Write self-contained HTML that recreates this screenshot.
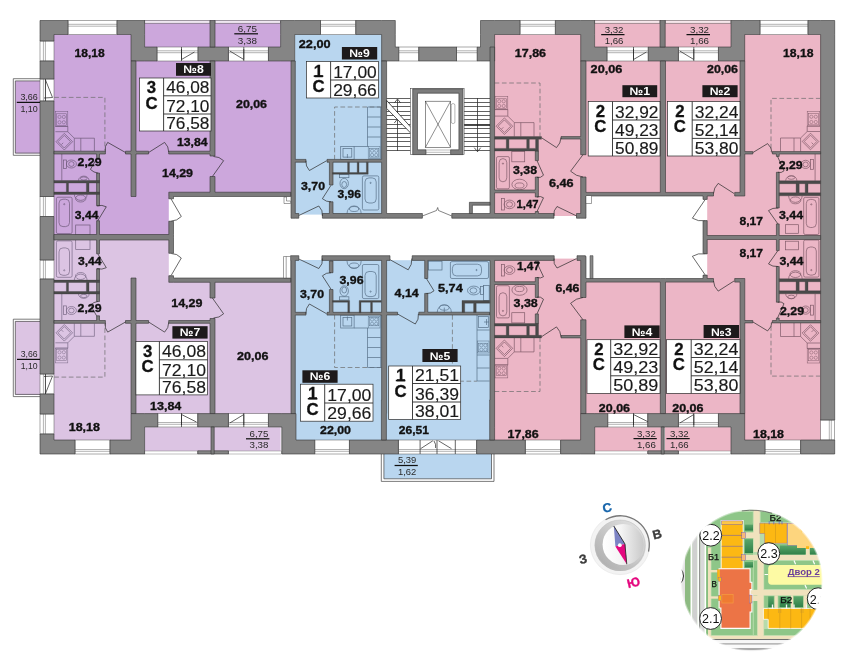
<!DOCTYPE html>
<html lang="ru">
<head>
<meta charset="utf-8">
<title>План этажа</title>
<style>
html,body{margin:0;padding:0;background:#fff;}
body{width:850px;height:659px;overflow:hidden;font-family:"Liberation Sans",sans-serif;}
svg{display:block;will-change:transform;}
svg text{font-family:"Liberation Sans",sans-serif;}
</style>
</head>
<body>
<svg width="850" height="659" viewBox="0 0 850 659">
<rect x="0" y="0" width="850" height="659" fill="#ffffff"/>
<rect x="54" y="34.5" width="77" height="202.8" fill="#cca7dc"/>
<rect x="131" y="47" width="161" height="149" fill="#cca7dc"/>
<rect x="131" y="190" width="40" height="47.3" fill="#cca7dc"/>
<rect x="144.6" y="20.5" width="136" height="26.5" fill="#cca7dc"/>
<rect x="15.3" y="81" width="24.7" height="72.3" fill="#cca7dc"/>
<rect x="54" y="237.2" width="77" height="202.8" fill="#dcc4e3"/>
<rect x="131" y="278.5" width="161" height="149" fill="#dcc4e3"/>
<rect x="131" y="237.2" width="40" height="47.3" fill="#dcc4e3"/>
<rect x="144.6" y="427.5" width="136" height="26.5" fill="#dcc4e3"/>
<rect x="15.3" y="321.2" width="24.7" height="73.8" fill="#dcc4e3"/>
<rect x="295" y="34.5" width="87" height="182.5" fill="#b9d6ef"/>
<rect x="295" y="257" width="87" height="183" fill="#b9d6ef"/>
<rect x="385" y="257" width="105" height="183" fill="#b9d6ef"/>
<rect x="383.9" y="454" width="107.6" height="24.8" fill="#b9d6ef"/>
<rect x="494" y="34.5" width="87" height="182.5" fill="#ecb6c6"/>
<rect x="494" y="257.5" width="87" height="182.5" fill="#ecb6c6"/>
<rect x="581" y="47" width="80" height="147.5" fill="#ecb6c6"/>
<rect x="581" y="280" width="80" height="147.5" fill="#ecb6c6"/>
<rect x="594.6" y="20.5" width="66.4" height="26.5" fill="#ecb6c6"/>
<rect x="594.6" y="427.5" width="66.4" height="26.5" fill="#ecb6c6"/>
<rect x="663" y="47" width="82" height="147.5" fill="#ecb6c6"/>
<rect x="663" y="280" width="82" height="147.5" fill="#ecb6c6"/>
<rect x="665" y="20.5" width="66" height="26.5" fill="#ecb6c6"/>
<rect x="665" y="427.5" width="66" height="26.5" fill="#ecb6c6"/>
<rect x="744" y="34.5" width="77" height="202.8" fill="#ecb6c6"/>
<rect x="744" y="237.2" width="77" height="202.8" fill="#ecb6c6"/>
<rect x="705" y="194" width="40" height="43.3" fill="#ecb6c6"/>
<rect x="705" y="237.2" width="40" height="43.3" fill="#ecb6c6"/>
<rect x="168.8" y="198.8" width="4.7" height="22.4" fill="#fff"/>
<rect x="168.8" y="253.3" width="4.7" height="22.4" fill="#fff"/>
<rect x="703" y="199.4" width="4.2" height="21.2" fill="#fff"/>
<rect x="703" y="253.9" width="4.2" height="21.2" fill="#fff"/>
<rect x="298.8" y="214.6" width="23.6" height="4.4" fill="#fff"/>
<rect x="298.8" y="255" width="23.1" height="5" fill="#fff"/>
<rect x="390" y="255" width="22.2" height="5.2" fill="#fff"/>
<rect x="554" y="216" width="22.5" height="3" fill="#fff"/>
<rect x="554.2" y="255" width="22.8" height="3.6" fill="#fff"/>
<rect x="68" y="20.5" width="49" height="14" fill="#ffffff" stroke="#555" stroke-width="0.5"/>
<path d="M68 24.3H117 M68 26.2H117" stroke="#666" stroke-width="0.5" fill="none"/>
<rect x="157" y="47" width="41" height="14" fill="#ffffff" stroke="#555" stroke-width="0.5"/>
<path d="M157 50.8H198 M157 52.7H198" stroke="#666" stroke-width="0.5" fill="none"/>
<rect x="228.4" y="47" width="40" height="14" fill="#ffffff" stroke="#555" stroke-width="0.5"/>
<path d="M228.4 50.8H268.4 M228.4 52.7H268.4" stroke="#666" stroke-width="0.5" fill="none"/>
<rect x="320.5" y="20.5" width="35.3" height="14" fill="#ffffff" stroke="#555" stroke-width="0.5"/>
<path d="M320.5 24.3H355.8 M320.5 26.2H355.8" stroke="#666" stroke-width="0.5" fill="none"/>
<rect x="398.8" y="47" width="20" height="14" fill="#ffffff" stroke="#555" stroke-width="0.5"/>
<path d="M398.8 50.8H418.8 M398.8 52.7H418.8" stroke="#666" stroke-width="0.5" fill="none"/>
<rect x="456.5" y="47" width="20.7" height="14" fill="#ffffff" stroke="#555" stroke-width="0.5"/>
<path d="M456.5 50.8H477.2 M456.5 52.7H477.2" stroke="#666" stroke-width="0.5" fill="none"/>
<rect x="520" y="20.5" width="35.3" height="14" fill="#ffffff" stroke="#555" stroke-width="0.5"/>
<path d="M520 24.3H555.3 M520 26.2H555.3" stroke="#666" stroke-width="0.5" fill="none"/>
<rect x="607" y="47" width="41.2" height="14" fill="#ffffff" stroke="#555" stroke-width="0.5"/>
<path d="M607 50.8H648.2 M607 52.7H648.2" stroke="#666" stroke-width="0.5" fill="none"/>
<rect x="678.4" y="47" width="40" height="14" fill="#ffffff" stroke="#555" stroke-width="0.5"/>
<path d="M678.4 50.8H718.4 M678.4 52.7H718.4" stroke="#666" stroke-width="0.5" fill="none"/>
<rect x="760" y="20.5" width="48" height="14" fill="#ffffff" stroke="#555" stroke-width="0.5"/>
<path d="M760 24.3H808 M760 26.2H808" stroke="#666" stroke-width="0.5" fill="none"/>
<rect x="75" y="440" width="35" height="14" fill="#ffffff" stroke="#555" stroke-width="0.5"/>
<path d="M75 449.5H110 M75 451.3H110" stroke="#666" stroke-width="0.5" fill="none"/>
<rect x="157.8" y="413.6" width="40" height="13.4" fill="#ffffff" stroke="#555" stroke-width="0.5"/>
<path d="M157.8 422.5H197.8 M157.8 424.3H197.8" stroke="#666" stroke-width="0.5" fill="none"/>
<rect x="228.4" y="413.6" width="40" height="13.4" fill="#ffffff" stroke="#555" stroke-width="0.5"/>
<path d="M228.4 422.5H268.4 M228.4 424.3H268.4" stroke="#666" stroke-width="0.5" fill="none"/>
<rect x="314.8" y="440" width="34.6" height="14" fill="#ffffff" stroke="#555" stroke-width="0.5"/>
<path d="M314.8 449.5H349.4 M314.8 451.3H349.4" stroke="#666" stroke-width="0.5" fill="none"/>
<rect x="398.4" y="440" width="78.2" height="14" fill="#ffffff" stroke="#555" stroke-width="0.5"/>
<path d="M398.4 449.5H476.6 M398.4 451.3H476.6" stroke="#666" stroke-width="0.5" fill="none"/>
<rect x="525.3" y="440" width="35.3" height="14" fill="#ffffff" stroke="#555" stroke-width="0.5"/>
<path d="M525.3 449.5H560.6 M525.3 451.3H560.6" stroke="#666" stroke-width="0.5" fill="none"/>
<rect x="607.8" y="413.6" width="40" height="13.4" fill="#ffffff" stroke="#555" stroke-width="0.5"/>
<path d="M607.8 422.5H647.8 M607.8 424.3H647.8" stroke="#666" stroke-width="0.5" fill="none"/>
<rect x="678.4" y="413.6" width="40" height="13.4" fill="#ffffff" stroke="#555" stroke-width="0.5"/>
<path d="M678.4 422.5H718.4 M678.4 424.3H718.4" stroke="#666" stroke-width="0.5" fill="none"/>
<rect x="765" y="440" width="35.6" height="14" fill="#ffffff" stroke="#555" stroke-width="0.5"/>
<path d="M765 449.5H800.6 M765 451.3H800.6" stroke="#666" stroke-width="0.5" fill="none"/>
<rect x="40" y="41" width="14" height="20" fill="#ffffff" stroke="#555" stroke-width="0.5"/>
<path d="M43.4 41V61 M45.4 41V61" stroke="#666" stroke-width="0.5" fill="none"/>
<rect x="40" y="79" width="14" height="22" fill="#ffffff" stroke="#555" stroke-width="0.5"/>
<path d="M43.4 79V101 M45.4 79V101" stroke="#666" stroke-width="0.5" fill="none"/>
<rect x="40" y="196.5" width="14" height="20" fill="#ffffff" stroke="#555" stroke-width="0.5"/>
<path d="M43.4 196.5V216.5 M45.4 196.5V216.5" stroke="#666" stroke-width="0.5" fill="none"/>
<rect x="40" y="260" width="14" height="19" fill="#ffffff" stroke="#555" stroke-width="0.5"/>
<path d="M43.4 260V279 M45.4 260V279" stroke="#666" stroke-width="0.5" fill="none"/>
<rect x="40" y="374" width="14" height="20" fill="#ffffff" stroke="#555" stroke-width="0.5"/>
<path d="M43.4 374V394 M45.4 374V394" stroke="#666" stroke-width="0.5" fill="none"/>
<rect x="40" y="414" width="14" height="20" fill="#ffffff" stroke="#555" stroke-width="0.5"/>
<path d="M43.4 414V434 M45.4 414V434" stroke="#666" stroke-width="0.5" fill="none"/>
<rect x="820.6" y="420" width="14.1" height="20" fill="#ffffff" stroke="#555" stroke-width="0.5"/>
<path d="M829.3 420V440 M831.3 420V440" stroke="#666" stroke-width="0.5" fill="none"/>
<path d="M40 78.7H13.3V155.3H40 M40 80.9H15.3V153.1H40" fill="none" stroke="#444" stroke-width="0.7"/>
<path d="M40 319.2H13.3V396.6H40 M40 321.4H15.3V394.4H40" fill="none" stroke="#444" stroke-width="0.7"/>
<path d="M381.3 454V481.4H494V454 M383.9 454V478.8H491.5V454" fill="none" stroke="#444" stroke-width="0.7"/>
<rect x="144.6" y="20.7" width="65.4" height="2.5" fill="#efe6f1" stroke="#555" stroke-width="0.5"/>
<rect x="215" y="20.7" width="65.6" height="2.5" fill="#efe6f1" stroke="#555" stroke-width="0.5"/>
<rect x="594.6" y="20.7" width="65.4" height="2.5" fill="#f7e6eb" stroke="#555" stroke-width="0.5"/>
<rect x="665.2" y="20.7" width="65.8" height="2.5" fill="#f7e6eb" stroke="#555" stroke-width="0.5"/>
<rect x="144.6" y="451" width="53.2" height="3" fill="#fff" stroke="#666" stroke-width="0.4"/>
<rect x="228.4" y="451" width="53.4" height="3" fill="#fff" stroke="#666" stroke-width="0.4"/>
<rect x="594.7" y="451" width="53.1" height="3" fill="#fff" stroke="#666" stroke-width="0.4"/>
<rect x="678.4" y="451" width="52.6" height="3" fill="#fff" stroke="#666" stroke-width="0.4"/>
<g fill="none" stroke="#222" stroke-width="0.7"><path d="M181.5 49V59.5L194.5 52 M181.5 47V61"/><path d="M243.8 49V59.5L229.8 51 M243.8 47V61"/><path d="M633.5 49V59.5L646.5 52 M633.5 47V61"/><path d="M693.8 49V59.5L679.8 51 M693.8 47V61"/><path d="M181.5 425V414.5L196.5 422 M181.5 427V413"/><path d="M243.8 425V414.5L229.8 423 M243.8 427V413"/><path d="M633.5 425V414.5L648.5 422 M633.5 427V413"/><path d="M693.8 425V414.5L679.8 423 M693.8 427V413"/><path d="M420.1 454V440 M437 454V440 M455.3 454V440 M420.6 448.7L432.8 440.8 M451.5 448.7L438.5 440.8 M434 441Q436.2 444 435.6 448"/><path d="M45.5 79V101 M45.5 80L52.5 97.5L44 98"/><path d="M45.5 374V394 M45.5 393.5L52.5 376L44 376.5"/></g>
<path d="M131 61 L144.6 61 L157 61 L157 47 L144.6 47 L144.6 34.5 L144.6 20.5 L131 20.5 L117 20.5 L117 34.5 L131 34.5 L131 47Z M40 41 L54 41 L54 34.5 L68 34.5 L68 20.5 L54 20.5 L40 20.5 L40 34.5Z M198 61 L228.4 61 L228.4 47 L198 47Z M40 61 L40 79 L54 79 L54 61Z M40 196.5 L54 196.5 L54 101 L40 101Z M40 260 L54 260 L54 216.5 L40 216.5Z M40 374 L54 374 L54 279 L40 279Z M40 414 L54 414 L54 394 L40 394Z M131 413.6 L131 427 L131 440 L110 440 L110 454 L131 454 L144.6 454 L144.6 440 L144.6 427 L157.8 427 L157.8 413.6 L144.6 413.6Z M197.8 427 L228.4 427 L228.4 413.6 L197.8 413.6Z M75 454 L75 440 L54 440 L54 434 L40 434 L40 440 L40 454 L54 454Z M197.8 454 L228.4 454 L228.4 450.8 L197.8 450.8Z M555.3 20.5 L555.3 34.5 L580.7 34.5 L580.7 47 L580.7 61 L594.6 61 L607 61 L607 47 L594.6 47 L594.6 34.5 L594.6 20.5 L580.7 20.5Z M494.6 47 L494.6 34.5 L520 34.5 L520 20.5 L494.6 20.5 L480.5 20.5 L480.5 34.5 L480.5 47 L477.2 47 L477.2 61 L480.5 61 L494.6 61Z M280.6 20.5 L280.6 34.5 L280.6 47 L268.4 47 L268.4 61 L280.6 61 L294.7 61 L294.7 47 L294.7 34.5 L320.5 34.5 L320.5 20.5 L294.7 20.5Z M395.3 34.5 L395.3 20.5 L381.6 20.5 L355.8 20.5 L355.8 34.5 L381.6 34.5 L381.6 47 L381.6 61 L395.3 61 L398.8 61 L398.8 47 L395.3 47Z M418.8 61 L456.5 61 L456.5 47 L418.8 47Z M281.8 440 L281.8 454 L296 454 L314.8 454 L314.8 440 L296 440 L296 427 L296 413.6 L281.8 413.6 L268.4 413.6 L268.4 427 L281.8 427Z M349.4 440 L349.4 454 L398.4 454 L398.4 440Z M476.6 454 L525.3 454 L525.3 440 L476.6 440Z M560.6 454 L580.6 454 L594.7 454 L594.7 440 L594.7 427 L607.8 427 L607.8 413.6 L594.7 413.6 L580.6 413.6 L580.6 427 L580.6 440 L560.6 440Z M744.7 34.5 L760 34.5 L760 20.5 L744.7 20.5 L731 20.5 L731 34.5 L731 47 L718.4 47 L718.4 61 L731 61 L744.7 61 L744.7 47Z M808 20.5 L808 34.5 L820.6 34.5 L820.6 420 L834.7 420 L834.7 34.5 L834.7 20.5 L820.6 20.5Z M648.2 61 L678.4 61 L678.4 47 L648.2 47Z M647.8 427 L678.4 427 L678.4 413.6 L647.8 413.6Z M731 427 L731 440 L731 454 L744.7 454 L765 454 L765 440 L744.7 440 L744.7 427 L744.7 413.6 L731 413.6 L718.4 413.6 L718.4 427Z M820.6 440 L800.6 440 L800.6 454 L820.6 454 L834.7 454 L834.7 440Z M647.8 454 L678.4 454 L678.4 450.8 L647.8 450.8Z" fill="#858585" stroke="#333333" stroke-width="0.6" fill-rule="evenodd"/>
<g fill="none" stroke="#6e5a7a" stroke-width="0.7" >
<path d="M54.2 97.4H104.9V150.6" stroke-dasharray="4.7 2.6" stroke="#6c6c6c" stroke-width="0.7"/><g stroke-width="0.5"><rect x="55.4" y="111.6" width="12.4" height="14.8"/><rect x="56.6" y="113.8" width="10" height="11.4"/><circle cx="59.49" cy="116.93" r="1.6"/><circle cx="59.49" cy="122.26" r="1.6"/><circle cx="63.83" cy="116.93" r="1.6"/><circle cx="63.83" cy="122.26" r="1.6"/></g><path d="M55.4 126.4H67.8V131.7H55.4 M67.8 131.7L74.3 138.2V151 M74.3 138.2H94.4V151 M80.8 138.2V151"/><path d="M56 141.7L64.3 133.4L72.6 141.7L64.3 150Z"/><path d="M58 141.7L64.3 135.4L70.6 141.7L64.3 148Z"/><path d="M61.5 144.5L63.2 142.8"/><path d="M61.8 154V180.5"/><rect x="63.5" y="160" width="3" height="8.6"/><ellipse cx="71.4" cy="164" rx="5" ry="4"/><ellipse cx="71.4" cy="164" rx="2.7" ry="2.4"/><path d="M78.5 180.5A5.3 4.4 0 0 1 89.1 180.5"/><ellipse cx="83.8" cy="178.5" rx="3.3" ry="1.6"/><rect x="56.4" y="197.2" width="15.7" height="36.4" rx="1.5"/><rect x="59" y="199.2" width="10.5" height="27.4" rx="4"/><circle cx="64.25" cy="204.2" r="0.6"/><path d="M74.3 194.4A6.4 6 0 0 0 87.1 194.4"/><ellipse cx="80.7" cy="198.5" rx="5.2" ry="3.5"/><rect x="75.7" y="225" width="14.3" height="10"/>
</g>
<g fill="none" stroke="#7a6a86" stroke-width="0.7" transform="translate(0,474.5) scale(1,-1)">
<path d="M54.2 97.4H104.9V150.6" stroke-dasharray="4.7 2.6" stroke="#6c6c6c" stroke-width="0.7"/><g stroke-width="0.5"><rect x="55.4" y="111.6" width="12.4" height="14.8"/><rect x="56.6" y="113.8" width="10" height="11.4"/><circle cx="59.49" cy="116.93" r="1.6"/><circle cx="59.49" cy="122.26" r="1.6"/><circle cx="63.83" cy="116.93" r="1.6"/><circle cx="63.83" cy="122.26" r="1.6"/></g><path d="M55.4 126.4H67.8V131.7H55.4 M67.8 131.7L74.3 138.2V151 M74.3 138.2H94.4V151 M80.8 138.2V151"/><path d="M56 141.7L64.3 133.4L72.6 141.7L64.3 150Z"/><path d="M58 141.7L64.3 135.4L70.6 141.7L64.3 148Z"/><path d="M61.5 144.5L63.2 142.8"/><path d="M61.8 154V180.5"/><rect x="63.5" y="160" width="3" height="8.6"/><ellipse cx="71.4" cy="164" rx="5" ry="4"/><ellipse cx="71.4" cy="164" rx="2.7" ry="2.4"/><path d="M78.5 180.5A5.3 4.4 0 0 1 89.1 180.5"/><ellipse cx="83.8" cy="178.5" rx="3.3" ry="1.6"/><rect x="56.4" y="197.2" width="15.7" height="36.4" rx="1.5"/><rect x="59" y="199.2" width="10.5" height="27.4" rx="4"/><circle cx="64.25" cy="204.2" r="0.6"/><path d="M74.3 194.4A6.4 6 0 0 0 87.1 194.4"/><ellipse cx="80.7" cy="198.5" rx="5.2" ry="3.5"/><rect x="75.7" y="225" width="14.3" height="10"/>
</g>
<g fill="none" stroke="#587088" stroke-width="0.7" >
<path d="M381.6 107H334.6V159.4" stroke-dasharray="4.7 2.6" stroke="#6c6c6c" stroke-width="0.7"/><path d="M367.5 107H380.7V159.4 M367.5 107V146.5 M367.5 117H380.7 M367.5 127H380.7 M367.5 137H380.7"/><g stroke-width="0.5"><rect x="368.2" y="146.5" width="11.8" height="11.8"/><rect x="369.4" y="148.7" width="9.4" height="8.4"/><circle cx="372.09" cy="150.75" r="1.6"/><circle cx="372.09" cy="155" r="1.6"/><circle cx="376.22" cy="150.75" r="1.6"/><circle cx="376.22" cy="155" r="1.6"/></g><rect x="340.7" y="146.5" width="13.4" height="12.9"/><rect x="343" y="148.5" width="8.8" height="8.6"/><path d="M347.4 154V158"/><path d="M354.1 146.5H368.2"/><rect x="339.5" y="174.5" width="9.4" height="3.2"/><ellipse cx="344.2" cy="183.5" rx="4.2" ry="5.2"/><ellipse cx="344.2" cy="184.5" rx="2.4" ry="3"/><rect x="362.4" y="175.9" width="16.4" height="34.1" rx="1.5"/><rect x="365" y="177.9" width="11.2" height="25.1" rx="4"/><circle cx="370.6" cy="182.9" r="0.6"/><path d="M347 213.5A7 7.5 0 0 1 361.2 213.5"/><ellipse cx="354.1" cy="209" rx="4.6" ry="2.5"/>
</g>
<g fill="none" stroke="#587088" stroke-width="0.7" transform="translate(0,474.5) scale(1,-1)">
<path d="M381.6 107H334.6V159.4" stroke-dasharray="4.7 2.6" stroke="#6c6c6c" stroke-width="0.7"/><path d="M367.5 107H380.7V159.4 M367.5 107V146.5 M367.5 117H380.7 M367.5 127H380.7 M367.5 137H380.7"/><g stroke-width="0.5"><rect x="368.2" y="146.5" width="11.8" height="11.8"/><rect x="369.4" y="148.7" width="9.4" height="8.4"/><circle cx="372.09" cy="150.75" r="1.6"/><circle cx="372.09" cy="155" r="1.6"/><circle cx="376.22" cy="150.75" r="1.6"/><circle cx="376.22" cy="155" r="1.6"/></g><rect x="340.7" y="146.5" width="13.4" height="12.9"/><rect x="343" y="148.5" width="8.8" height="8.6"/><path d="M347.4 154V158"/><path d="M354.1 146.5H368.2"/><rect x="339.5" y="174.5" width="9.4" height="3.2"/><ellipse cx="344.2" cy="183.5" rx="4.2" ry="5.2"/><ellipse cx="344.2" cy="184.5" rx="2.4" ry="3"/><rect x="362.4" y="175.9" width="16.4" height="34.1" rx="1.5"/><rect x="365" y="177.9" width="11.2" height="25.1" rx="4"/><circle cx="370.6" cy="182.9" r="0.6"/><path d="M347 213.5A7 7.5 0 0 1 361.2 213.5"/><ellipse cx="354.1" cy="209" rx="4.6" ry="2.5"/>
</g>
<g fill="none" stroke="#587088" stroke-width="0.7" >
<path d="M452.4 315V381.2H477" stroke-dasharray="4.7 2.6" stroke="#6c6c6c" stroke-width="0.7"/><path d="M477 315V381H489.5 M477 330H489.5 M477 355H489.5 M477 368H489.5"/><rect x="478.3" y="316.5" width="10" height="11"/><path d="M486.5 319V325 M484 322H489"/><g stroke-width="0.5"><rect x="477.5" y="341" width="11.5" height="12"/><rect x="478.7" y="343.2" width="9.1" height="8.6"/><circle cx="481.3" cy="345.32" r="1.6"/><circle cx="481.3" cy="349.64" r="1.6"/><circle cx="485.32" cy="345.32" r="1.6"/><circle cx="485.32" cy="349.64" r="1.6"/></g><rect x="450.4" y="261.6" width="38.1" height="16.9" rx="1.5"/><rect x="452.4" y="264.2" width="29.1" height="11.7" rx="4"/><circle cx="476.5" cy="270.05" r="0.6"/><rect x="428.4" y="261.2" width="13.6" height="8.8"/><rect x="483.6" y="285.6" width="5.6" height="14.9"/><rect x="480.4" y="286.5" width="3" height="8"/><ellipse cx="473.8" cy="290.5" rx="6.3" ry="4.4"/><ellipse cx="473.4" cy="290.5" rx="3.4" ry="2.7"/><path d="M437.2 312.4A7.1 7.6 0 0 1 451.4 312.4"/><ellipse cx="444.3" cy="307.6" rx="4.8" ry="2.6"/><path d="M444.3 307.6V312"/>
</g>
<g fill="none" stroke="#805a69" stroke-width="0.7" >
<path d="M494.6 83H540V136.6" stroke-dasharray="4.7 2.6" stroke="#6c6c6c" stroke-width="0.7"/><g stroke-width="0.5"><rect x="495" y="96.6" width="12.8" height="13"/><rect x="496.2" y="98.8" width="10.4" height="9.6"/><circle cx="499.22" cy="101.28" r="1.6"/><circle cx="499.22" cy="105.96" r="1.6"/><circle cx="503.7" cy="101.28" r="1.6"/><circle cx="503.7" cy="105.96" r="1.6"/></g><path d="M495 109.6H507.8V116.1H495 M507.8 116.1L514.3 122.6V136.6 M514.3 122.6H534V136.6 M520.8 122.6V136.6"/><path d="M496.1 126.2L504.4 117.9L512.7 126.2L504.4 134.5Z"/><path d="M498.1 126.2L504.4 119.9L510.7 126.2L504.4 132.5Z"/><path d="M501.6 129L503.3 127.3"/><rect x="496.5" y="156.6" width="12.9" height="32.2" rx="1.5"/><rect x="499.1" y="158.6" width="7.7" height="23.2" rx="4"/><circle cx="502.95" cy="163.6" r="0.6"/><rect x="511.8" y="151.6" width="12.9" height="10.2"/><ellipse cx="519.5" cy="184.5" rx="7.6" ry="5.3"/><ellipse cx="519.5" cy="185.5" rx="4.5" ry="2.6"/><rect x="501.6" y="198.5" width="3" height="11.5"/><ellipse cx="509.5" cy="204.4" rx="5.4" ry="4.3"/><ellipse cx="509.5" cy="204.4" rx="3" ry="2.6"/>
</g>
<g fill="none" stroke="#805a69" stroke-width="0.7" transform="translate(0,474.5) scale(1,-1)">
<path d="M494.6 83H540V136.6" stroke-dasharray="4.7 2.6" stroke="#6c6c6c" stroke-width="0.7"/><g stroke-width="0.5"><rect x="495" y="96.6" width="12.8" height="13"/><rect x="496.2" y="98.8" width="10.4" height="9.6"/><circle cx="499.22" cy="101.28" r="1.6"/><circle cx="499.22" cy="105.96" r="1.6"/><circle cx="503.7" cy="101.28" r="1.6"/><circle cx="503.7" cy="105.96" r="1.6"/></g><path d="M495 109.6H507.8V116.1H495 M507.8 116.1L514.3 122.6V136.6 M514.3 122.6H534V136.6 M520.8 122.6V136.6"/><path d="M496.1 126.2L504.4 117.9L512.7 126.2L504.4 134.5Z"/><path d="M498.1 126.2L504.4 119.9L510.7 126.2L504.4 132.5Z"/><path d="M501.6 129L503.3 127.3"/><rect x="496.5" y="156.6" width="12.9" height="32.2" rx="1.5"/><rect x="499.1" y="158.6" width="7.7" height="23.2" rx="4"/><circle cx="502.95" cy="163.6" r="0.6"/><rect x="511.8" y="151.6" width="12.9" height="10.2"/><ellipse cx="519.5" cy="184.5" rx="7.6" ry="5.3"/><ellipse cx="519.5" cy="185.5" rx="4.5" ry="2.6"/><rect x="501.6" y="198.5" width="3" height="11.5"/><ellipse cx="509.5" cy="204.4" rx="5.4" ry="4.3"/><ellipse cx="509.5" cy="204.4" rx="3" ry="2.6"/>
</g>
<g fill="none" stroke="#805a69" stroke-width="0.7" >
<path d="M820.6 98.4H771V151.6" stroke-dasharray="4.7 2.6" stroke="#6c6c6c" stroke-width="0.7"/><g stroke-width="0.5"><rect x="807.2" y="111.5" width="12.6" height="14.6"/><rect x="808.4" y="113.7" width="10.2" height="11.2"/><circle cx="811.36" cy="116.76" r="1.6"/><circle cx="811.36" cy="122.01" r="1.6"/><circle cx="815.77" cy="116.76" r="1.6"/><circle cx="815.77" cy="122.01" r="1.6"/></g><path d="M820 126.1H807.2V131.5H820 M807.2 131.5L800.6 138V151.6 M800.6 138H780.5V151.6 M794 138V151.6"/><path d="M802.2 141.5L810.5 133.2L818.8 141.5L810.5 149.8Z"/><path d="M804.2 141.5L810.5 135.2L816.8 141.5L810.5 147.8Z"/><path d="M813.3 144.3L811.6 142.6"/><path d="M815.1 154V180.7"/><rect x="810.6" y="159.4" width="3" height="9.9"/><ellipse cx="805.6" cy="164.4" rx="4.6" ry="4.1"/><ellipse cx="805.6" cy="164.4" rx="2.6" ry="2.4"/><path d="M785.7 180.7A5.6 5 0 0 1 796.9 180.7"/><ellipse cx="791.3" cy="177.6" rx="3.6" ry="1.7"/><rect x="803.7" y="197.4" width="15.2" height="37.1" rx="1.5"/><rect x="806.3" y="199.4" width="10" height="28.1" rx="4"/><circle cx="811.3" cy="204.4" r="0.6"/><path d="M788.6 195.8A6.8 6.6 0 0 0 802.2 195.8"/><ellipse cx="795.4" cy="200.4" rx="5.4" ry="3.4"/><rect x="785.5" y="224.7" width="12.9" height="8.6"/>
</g>
<g fill="none" stroke="#805a69" stroke-width="0.7" transform="translate(0,474.5) scale(1,-1)">
<path d="M820.6 98.4H771V151.6" stroke-dasharray="4.7 2.6" stroke="#6c6c6c" stroke-width="0.7"/><g stroke-width="0.5"><rect x="807.2" y="111.5" width="12.6" height="14.6"/><rect x="808.4" y="113.7" width="10.2" height="11.2"/><circle cx="811.36" cy="116.76" r="1.6"/><circle cx="811.36" cy="122.01" r="1.6"/><circle cx="815.77" cy="116.76" r="1.6"/><circle cx="815.77" cy="122.01" r="1.6"/></g><path d="M820 126.1H807.2V131.5H820 M807.2 131.5L800.6 138V151.6 M800.6 138H780.5V151.6 M794 138V151.6"/><path d="M802.2 141.5L810.5 133.2L818.8 141.5L810.5 149.8Z"/><path d="M804.2 141.5L810.5 135.2L816.8 141.5L810.5 147.8Z"/><path d="M813.3 144.3L811.6 142.6"/><path d="M815.1 154V180.7"/><rect x="810.6" y="159.4" width="3" height="9.9"/><ellipse cx="805.6" cy="164.4" rx="4.6" ry="4.1"/><ellipse cx="805.6" cy="164.4" rx="2.6" ry="2.4"/><path d="M785.7 180.7A5.6 5 0 0 1 796.9 180.7"/><ellipse cx="791.3" cy="177.6" rx="3.6" ry="1.7"/><rect x="803.7" y="197.4" width="15.2" height="37.1" rx="1.5"/><rect x="806.3" y="199.4" width="10" height="28.1" rx="4"/><circle cx="811.3" cy="204.4" r="0.6"/><path d="M788.6 195.8A6.8 6.6 0 0 0 802.2 195.8"/><ellipse cx="795.4" cy="200.4" rx="5.4" ry="3.4"/><rect x="785.5" y="224.7" width="12.9" height="8.6"/>
</g>
<path d="M210 47 L215 47 L215 20.5 L210 20.5Z M168.7 151.2 L168.7 154 L210 154 L210 156 L215 156 L215 61 L210 61 L210 151.2Z M136 151.2 L136 61 L131 61 L131 151.2 L125.5 151.2 L125.5 154 L131 154 L131 196.5 L136 196.5 L136 154 L148.6 154 L148.6 151.2Z M96.6 154 L96.6 158.7 L99.5 158.7 L99.5 154 L105.4 154 L105.4 151.2 L54 151.2 L54 154Z M173.5 192.2 L168.8 192.2 L168.8 196.5 L168.8 198.8 L173.5 198.8 L173.5 196.5 L210 196.5 L215 196.5 L290.7 196.5 L290.7 192.2 L215 192.2 L215 176.5 L210 176.5 L210 192.2Z M99.5 205.8 L99.5 173 L96.6 173 L96.6 205.8Z M54 234.5 L54 240 L96.6 240 L96.6 253.8 L99.5 253.8 L99.5 240 L168.8 240 L168.8 253.3 L173.5 253.3 L173.5 240 L173.5 237.25 L173.5 234.5 L173.5 221.2 L168.8 221.2 L168.8 234.5 L99.5 234.5 L99.5 220.7 L96.6 220.7 L96.6 234.5Z M168.8 278 L168.8 282.3 L173.5 282.3 L210 282.3 L210 298 L215 298 L215 282.3 L290.7 282.3 L290.7 278 L215 278 L210 278 L173.5 278 L173.5 275.7 L168.8 275.7Z M99.5 301.5 L99.5 268.7 L96.6 268.7 L96.6 301.5Z M105.4 320.5 L99.5 320.5 L99.5 315.8 L96.6 315.8 L96.6 320.5 L54 320.5 L54 323.3 L105.4 323.3Z M148.6 323.3 L148.6 320.5 L136 320.5 L136 278 L131 278 L131 320.5 L125.5 320.5 L125.5 323.3 L131 323.3 L131 413.5 L136 413.5 L136 323.3Z M210 318.5 L210 320.5 L168.7 320.5 L168.7 323.3 L210 323.3 L210 413.5 L215 413.5 L215 318.5Z M298.8 218.2 L298.8 213.5 L295.3 213.5 L295.3 162.2 L306 162.2 L306 159.4 L295.3 159.4 L295.3 61 L291 61 L291 213.5 L291 218.2 L295.3 218.2Z M327 159.4 L327 162.2 L329.4 162.2 L329.4 185 L333 185 L333 162.2 L381.6 162.2 L381.6 213.5 L333 213.5 L333 201.8 L329.4 201.8 L329.4 213.5 L322.4 213.5 L322.4 218.2 L381.6 218.2 L386.6 218.2 L422.4 218.2 L422.4 213.5 L386.6 213.5 L386.6 61 L381.6 61 L381.6 159.4Z M290.6 260.4 L291 260.4 L291 413.5 L295.3 413.5 L295.3 315.1 L306 315.1 L306 312.3 L295.3 312.3 L295.3 260.4 L298.8 260.4 L298.8 255.7 L290.6 255.7Z M381.6 260.4 L381.6 312.3 L333 312.3 L333 289.5 L329.4 289.5 L329.4 312.3 L327 312.3 L327 315.1 L381.6 315.1 L381.6 400 L381.4 400 L381.4 440 L386.4 440 L386.4 413.5 L386.6 413.5 L386.6 315 L397.6 315 L397.6 312.2 L386.6 312.2 L386.6 260.4 L390 260.4 L390 255.7 L321.9 255.7 L321.9 260.4Z M333 272.7 L333 261 L329.4 261 L329.4 272.7Z M424.7 278.5 L427.8 278.5 L427.8 260.4 L490 260.4 L490 400 L489.7 400 L489.7 440 L494.6 440 L494.6 427.5 L494.6 400 L494.6 284.5 L535.3 284.5 L535.3 297.5 L538.4 297.5 L538.4 284.5 L538.4 281.7 L538.4 277.5 L535.3 277.5 L535.3 281.7 L494.6 281.7 L494.6 260.4 L554.2 260.4 L554.2 255.7 L412.2 255.7 L412.2 260.4 L424.7 260.4Z M489.5 315 L489.5 312.2 L427.8 312.2 L427.8 293.4 L424.7 293.4 L424.7 312.2 L418.8 312.2 L418.8 315Z M214.2 454 L214.2 427 L211 427 L211 454Z M660 47 L665.2 47 L665.2 20.5 L660 20.5Z M561 136.6 L561 139 L580.7 139 L580.7 154.7 L586 154.7 L586 61 L580.7 61 L580.7 136.6Z M538.4 197 L538.4 192.8 L538.4 190 L538.4 177 L535.3 177 L535.3 190 L494.6 190 L494.6 47 L490 47 L490 213.5 L451.8 213.5 L451.8 218.2 L490 218.2 L494.6 218.2 L554 218.2 L554 213.5 L538.4 213.5 L538.4 211.5 L535.3 211.5 L535.3 213.5 L494.6 213.5 L494.6 192.8 L535.3 192.8 L535.3 197Z M538.4 160.6 L538.4 151 L535.3 151 L535.3 160.6Z M576.5 213.5 L576.5 218.2 L580.7 218.2 L586 218.2 L586 213.5 L586 196 L660.3 196 L665.5 196 L703 196 L703 199.4 L707.2 199.4 L707.2 196 L713.5 196 L713.5 192.4 L665.5 192.4 L665.5 61 L660.3 61 L660.3 192.4 L586 192.4 L586 177 L580.7 177 L580.7 213.5Z M660.3 282.1 L660.3 413.5 L665.5 413.5 L665.5 282.1 L713.5 282.1 L713.5 278.5 L707.2 278.5 L707.2 275.1 L703 275.1 L703 278.5 L665.5 278.5 L660.3 278.5 L586 278.5 L586 256.3 L585.3 256.3 L585.3 255.7 L577 255.7 L577 260.4 L580.7 260.4 L580.7 297.5 L586 297.5 L586 282.1Z M538.4 263 L538.4 261 L535.3 261 L535.3 263Z M538.4 323.5 L538.4 313.9 L535.3 313.9 L535.3 323.5Z M580.7 319.8 L580.7 335.5 L561 335.5 L561 337.9 L580.7 337.9 L580.7 413.5 L586 413.5 L586 319.8Z M752.8 151.6 L744.8 151.6 L744.8 61 L740 61 L740 192.4 L734.7 192.4 L734.7 196 L740 196 L744.8 196 L744.8 192.4 L744.8 154 L752.8 154Z M820.6 154 L820.6 151.6 L772.4 151.6 L772.4 154 L776.4 154 L776.4 156.4 L779.2 156.4 L779.2 154Z M779.2 208 L779.2 172.3 L776.4 172.3 L776.4 208Z M703 253.9 L707.2 253.9 L707.2 239.5 L776.4 239.5 L776.4 250.6 L779.2 250.6 L779.2 239.5 L820.6 239.5 L820.6 235.5 L779.2 235.5 L779.2 223.9 L776.4 223.9 L776.4 235.5 L707.2 235.5 L707.2 220.6 L703 220.6 L703 235.5 L703 237.25 L703 239.5Z M744.8 322.9 L752.8 322.9 L752.8 320.5 L744.8 320.5 L744.8 282.1 L744.8 278.5 L740 278.5 L734.7 278.5 L734.7 282.1 L740 282.1 L740 413.5 L744.8 413.5Z M779.2 302.2 L779.2 266.5 L776.4 266.5 L776.4 302.2Z M820.6 322.9 L820.6 320.5 L779.2 320.5 L779.2 318.1 L776.4 318.1 L776.4 320.5 L772.4 320.5 L772.4 322.9Z M664.2 454 L664.2 427 L661.2 427 L661.2 454Z" fill="#7c7c7c" stroke="#333333" stroke-width="0.6" fill-rule="evenodd"/>
<path d="M357.2 162.2 L357.2 172.6 L349.4 172.6 L349.4 162.2 L347.6 162.2 L347.6 172.6 L332.6 172.6 L332.6 174.2 L347.6 174.2 L349.4 174.2 L357.2 174.2 L359 174.2 L366.4 174.2 L368.2 174.2 L368.2 172.6 L368.2 162.2 L366.4 162.2 L366.4 172.6 L359 172.6 L359 162.2Z M68.5 180.5 L66.4 180.5 L54 180.5 L54 183 L66.4 183 L66.4 192 L54 192 L54 194.4 L66.4 194.4 L68.5 194.4 L86.4 194.4 L89 194.4 L99.5 194.4 L99.5 192 L89 192 L89 183 L99.5 183 L99.5 180.5 L89 180.5 L86.4 180.5Z M68.5 192 L68.5 183 L86.4 183 L86.4 192Z M86.4 280.1 L68.5 280.1 L66.4 280.1 L54 280.1 L54 282.5 L66.4 282.5 L66.4 291.5 L54 291.5 L54 294 L66.4 294 L68.5 294 L86.4 294 L89 294 L99.5 294 L99.5 291.5 L89 291.5 L89 282.5 L99.5 282.5 L99.5 280.1 L89 280.1Z M86.4 291.5 L68.5 291.5 L68.5 282.5 L86.4 282.5Z M332.6 300.6 L332.6 302.2 L347.8 302.2 L347.8 312.7 L349.6 312.7 L349.6 302.2 L349.6 300.6 L347.8 300.6Z M370.6 300.6 L361 300.6 L359.2 300.6 L359.2 302.2 L359.2 312.7 L361 312.7 L361 302.2 L370.6 302.2 L370.6 312.7 L372.4 312.7 L372.4 302.2 L381.2 302.2 L381.2 300.6 L372.4 300.6Z M462 300.5 L462 303.2 L462 312.4 L464.7 312.4 L464.7 303.2 L473.6 303.2 L473.6 312.4 L476.2 312.4 L476.2 303.2 L489.8 303.2 L489.8 300.5 L476.2 300.5 L473.6 300.5 L464.7 300.5Z M529.3 136.6 L526.7 136.6 L508.9 136.6 L506.3 136.6 L494.6 136.6 L494.6 139.2 L506.3 139.2 L506.3 148.4 L494.6 148.4 L494.6 151 L506.3 151 L508.9 151 L526.7 151 L529.3 151 L535.6 151 L538.5 151 L538.5 148.4 L538.5 139.2 L541.5 139.2 L541.5 136.6 L538.5 136.6 L535.6 136.6Z M526.7 148.4 L508.9 148.4 L508.9 139.2 L526.7 139.2Z M535.6 148.4 L529.3 148.4 L529.3 139.2 L535.6 139.2Z M779.2 192.8 L779.2 195.8 L796.1 195.8 L799.2 195.8 L805.2 195.8 L808 195.8 L820.6 195.8 L820.6 192.8 L808 192.8 L808 183.7 L820.6 183.7 L820.6 180.7 L808 180.7 L805.2 180.7 L799.2 180.7 L796.1 180.7 L779.2 180.7 L779.2 183.7 L796.1 183.7 L796.1 192.8Z M799.2 183.7 L805.2 183.7 L805.2 192.8 L799.2 192.8Z M799.2 278.7 L796.1 278.7 L779.2 278.7 L779.2 281.7 L796.1 281.7 L796.1 290.8 L779.2 290.8 L779.2 293.8 L796.1 293.8 L799.2 293.8 L805.2 293.8 L808 293.8 L820.6 293.8 L820.6 290.8 L808 290.8 L808 281.7 L820.6 281.7 L820.6 278.7 L808 278.7 L805.2 278.7Z M799.2 290.8 L799.2 281.7 L805.2 281.7 L805.2 290.8Z M526.7 323.5 L508.9 323.5 L506.3 323.5 L494.6 323.5 L494.6 326.1 L506.3 326.1 L506.3 335.3 L494.6 335.3 L494.6 337.9 L506.3 337.9 L508.9 337.9 L526.7 337.9 L529.3 337.9 L535.6 337.9 L538.5 337.9 L541.5 337.9 L541.5 335.3 L538.5 335.3 L538.5 326.1 L538.5 323.5 L535.6 323.5 L529.3 323.5Z M508.9 326.1 L526.7 326.1 L526.7 335.3 L508.9 335.3Z M529.3 335.3 L529.3 326.1 L535.6 326.1 L535.6 335.3Z" fill="#4a4a4a" stroke="#333" stroke-width="0.3" fill-rule="evenodd"/>
<g fill="none" stroke="#333" stroke-width="0.5"><path d="M386.6 98.5H411 M463.5 98.5H490 M386.6 102.5H411 M463.5 102.5H490 M386.6 106.5H411 M463.5 106.5H490 M386.6 111.5H411 M463.5 111.5H490 M386.6 115.5H411 M463.5 115.5H490 M386.6 119.5H411 M463.5 119.5H490 M386.6 124.5H411 M463.5 124.5H490 M386.6 128.5H411 M463.5 128.5H490 M386.6 133.5H411 M463.5 133.5H490 M386.6 137.5H411 M463.5 137.5H490 M386.6 141.5H411 M463.5 141.5H490 M386.6 146.5H411 M463.5 146.5H490 M386.6 150.5H411 M463.5 150.5H490 " stroke="#3a3a3a" stroke-width="0.8"/><path d="M397.5 151V99.5 M394.3 103L397.5 99L400.7 103 M394.3 123L397.5 119L400.7 123" stroke-width="0.8"/><path d="M477.5 98V151.5 M474.3 147.7L477.5 151.7L480.7 147.7" stroke-width="0.8"/><path d="M463.5 125.2H490" stroke="#111" stroke-width="1.1"/><path d="M386.6 100.4L413.5 130.2L411 133.4L386.6 108.4Z" fill="#fff" stroke="#222" stroke-width="0.8"/></g>
<rect x="410.3" y="88.5" width="53.8" height="66.2" fill="#fff" stroke="#333" stroke-width="0.5"/>
<path d="M412.7 88.8H462.9V154.6H450.6V149.8H458.9V93.2H417.5V149.8H426V154.6H412.7Z" fill="#7c7c7c" stroke="#333333" stroke-width="0.6"/>
<path d="M426 150H450.6 M426 154.7H450.6 M426 152.3H450.6" stroke="#555" stroke-width="0.4" fill="none"/>
<g fill="none" stroke="#333" stroke-width="0.55"><rect x="425.4" y="101.2" width="25.2" height="46.2"/><path d="M425.4 101.2L450.6 147.4 M450.6 101.2L425.4 147.4"/><rect x="451.3" y="103.6" width="3.6" height="19.9" rx="1.6" stroke="#777"/></g>
<path d="M469.4 213.5V202.3H490V205.2H472.4V213.5Z" fill="#7c7c7c" stroke="#333333" stroke-width="0.6"/>
<path d="M422.4 216L436.5 210.5L437.7 207.5L438.5 210.5L451.8 216" fill="none" stroke="#333" stroke-width="0.6"/>
<g fill="#fff" stroke="#444" stroke-width="0.5"><path d="M284 197V203.5H290.5V201H286.5V197Z"/><path d="M283.5 256.5H290.5V278H283.5Z M286.2 256.5V278"/><path d="M586 196V203.5H591.5V196"/><path d="M590 255.7H593V278.5H590Z" fill="#8a8a8a" stroke="#333"/></g>
<path d="M125.5 152.5L107.7 142.4Q104.28 146.28 105.4 151.5" fill="none" stroke="#2a2a2a" stroke-width="0.7" stroke-linejoin="round"/>
<path d="M125.5 322L107.7 332.1Q104.28 328.22 105.4 323" fill="none" stroke="#2a2a2a" stroke-width="0.7" stroke-linejoin="round"/>
<path d="M148.6 152.5L164.6 142.4Q168.82 146.56 168.7 152" fill="none" stroke="#2a2a2a" stroke-width="0.7" stroke-linejoin="round"/>
<path d="M148.6 322L164.6 332.1Q168.82 327.94 168.7 322.5" fill="none" stroke="#2a2a2a" stroke-width="0.7" stroke-linejoin="round"/>
<path d="M212.4 176.5L223.6 160.7Q219.29 156.45 213.5 156.5" fill="none" stroke="#2a2a2a" stroke-width="0.7" stroke-linejoin="round"/>
<path d="M212.4 298L223.6 313.8Q219.29 318.05 213.5 318" fill="none" stroke="#2a2a2a" stroke-width="0.7" stroke-linejoin="round"/>
<path d="M96.6 158.7L90.4 169.4Q93.8 172.7 97.8 173" fill="none" stroke="#2a2a2a" stroke-width="0.7" stroke-linejoin="round"/>
<path d="M96.6 315.8L90.4 305.1Q93.8 301.8 97.8 301.5" fill="none" stroke="#2a2a2a" stroke-width="0.7" stroke-linejoin="round"/>
<path d="M97.8 220.7L106.3 206.8Q102.11 204.57 97 205.8" fill="none" stroke="#2a2a2a" stroke-width="0.7" stroke-linejoin="round"/>
<path d="M97.8 253.8L106.3 267.7Q102.11 269.93 97 268.7" fill="none" stroke="#2a2a2a" stroke-width="0.7" stroke-linejoin="round"/>
<path d="M298.8 215.5L318.8 206Q323.22 210.46 322.4 216" fill="none" stroke="#2a2a2a" stroke-width="0.7" stroke-linejoin="round"/>
<path d="M298.8 259L318.8 268.5Q323.22 264.04 322.4 258.5" fill="none" stroke="#2a2a2a" stroke-width="0.7" stroke-linejoin="round"/>
<path d="M326.5 160.8L309.4 170.5Q305.39 166.23 305.9 160.8" fill="none" stroke="#2a2a2a" stroke-width="0.7" stroke-linejoin="round"/>
<path d="M326.5 313.7L309.4 304Q305.39 308.27 305.9 313.7" fill="none" stroke="#2a2a2a" stroke-width="0.7" stroke-linejoin="round"/>
<path d="M331 185.3L322.4 198.7Q326.18 202.04 331 201.8" fill="none" stroke="#2a2a2a" stroke-width="0.7" stroke-linejoin="round"/>
<path d="M331 289.2L322.4 275.8Q326.18 272.46 331 272.7" fill="none" stroke="#2a2a2a" stroke-width="0.7" stroke-linejoin="round"/>
<path d="M576.5 215.9L557 206.5Q552.98 210.64 554 215.9" fill="none" stroke="#2a2a2a" stroke-width="0.7" stroke-linejoin="round"/>
<path d="M576.5 258.6L557 268Q552.98 263.86 554 258.6" fill="none" stroke="#2a2a2a" stroke-width="0.7" stroke-linejoin="round"/>
<path d="M541.6 137.8L556.5 147.6Q560.81 143.29 561 137.8" fill="none" stroke="#2a2a2a" stroke-width="0.7" stroke-linejoin="round"/>
<path d="M541.6 336.7L556.5 326.9Q560.81 331.21 561 336.7" fill="none" stroke="#2a2a2a" stroke-width="0.7" stroke-linejoin="round"/>
<path d="M583 154.7L570.6 171.2Q576.06 176.43 583 177" fill="none" stroke="#2a2a2a" stroke-width="0.7" stroke-linejoin="round"/>
<path d="M583 319.8L570.6 303.3Q576.06 298.07 583 297.5" fill="none" stroke="#2a2a2a" stroke-width="0.7" stroke-linejoin="round"/>
<path d="M537 160.6L543.5 175.2Q540.64 178.24 537 177.5" fill="none" stroke="#2a2a2a" stroke-width="0.7" stroke-linejoin="round"/>
<path d="M537 313.9L543.5 299.3Q540.64 296.26 537 297" fill="none" stroke="#2a2a2a" stroke-width="0.7" stroke-linejoin="round"/>
<path d="M537 211.5L543.5 197.8Q540.64 195.71 537 197" fill="none" stroke="#2a2a2a" stroke-width="0.7" stroke-linejoin="round"/>
<path d="M537 263L543.5 276.7Q540.64 278.79 537 277.5" fill="none" stroke="#2a2a2a" stroke-width="0.7" stroke-linejoin="round"/>
<path d="M734 193.5L718.2 183.4Q713.67 187.84 713.5 193.5" fill="none" stroke="#2a2a2a" stroke-width="0.7" stroke-linejoin="round"/>
<path d="M734 281L718.2 291.1Q713.67 286.66 713.5 281" fill="none" stroke="#2a2a2a" stroke-width="0.7" stroke-linejoin="round"/>
<path d="M752.8 152.6L767.6 143.6Q771.84 147.56 772 152.6" fill="none" stroke="#2a2a2a" stroke-width="0.7" stroke-linejoin="round"/>
<path d="M752.8 321.9L767.6 330.9Q771.84 326.94 772 321.9" fill="none" stroke="#2a2a2a" stroke-width="0.7" stroke-linejoin="round"/>
<path d="M777.5 156.4L784 170.8Q781.36 173.37 777.9 172.3" fill="none" stroke="#2a2a2a" stroke-width="0.7" stroke-linejoin="round"/>
<path d="M777.5 318.1L784 303.7Q781.36 301.13 777.9 302.2" fill="none" stroke="#2a2a2a" stroke-width="0.7" stroke-linejoin="round"/>
<path d="M777.9 223.9L768.5 210.6Q772.64 207.55 777.9 208" fill="none" stroke="#2a2a2a" stroke-width="0.7" stroke-linejoin="round"/>
<path d="M777.9 250.6L768.5 263.9Q772.64 266.95 777.9 266.5" fill="none" stroke="#2a2a2a" stroke-width="0.7" stroke-linejoin="round"/>
<path d="M171 198.8L181.3 216.5Q176.88 221.14 171.2 221" fill="#fff" stroke="#2a2a2a" stroke-width="0.7" stroke-linejoin="round"/>
<path d="M171 275.7L181.3 258Q176.88 253.36 171.2 253.5" fill="#fff" stroke="#2a2a2a" stroke-width="0.7" stroke-linejoin="round"/>
<path d="M705.3 199.4L692.4 218.2Q698.08 221.8 705.3 220.6" fill="#fff" stroke="#2a2a2a" stroke-width="0.7" stroke-linejoin="round"/>
<path d="M705.3 275.1L692.4 256.3Q698.08 252.7 705.3 253.9" fill="#fff" stroke="#2a2a2a" stroke-width="0.7" stroke-linejoin="round"/>
<path d="M390 259.7L408.2 269.8Q412.4 264.68 411.8 258.5" fill="none" stroke="#2a2a2a" stroke-width="0.7" stroke-linejoin="round"/>
<path d="M397.6 314L415.3 324Q419.16 319.49 418.4 313.8" fill="none" stroke="#2a2a2a" stroke-width="0.7" stroke-linejoin="round"/>
<path d="M426.4 278.5L434 290.8Q430.66 293.84 426.4 293.6" fill="none" stroke="#2a2a2a" stroke-width="0.7" stroke-linejoin="round"/>
<g font-family="Liberation Sans, sans-serif">
<text x="74.5" y="56.7" font-size="11.6" font-weight="700" fill="#111" stroke="#111" stroke-width="0.35" textLength="30.2" lengthAdjust="spacingAndGlyphs">18,18</text>
<text x="236" y="108" font-size="11.6" font-weight="700" fill="#111" stroke="#111" stroke-width="0.35" textLength="31" lengthAdjust="spacingAndGlyphs">20,06</text>
<text x="177" y="145.9" font-size="11.6" font-weight="700" fill="#111" stroke="#111" stroke-width="0.35" textLength="30.6" lengthAdjust="spacingAndGlyphs">13,84</text>
<text x="162" y="177" font-size="11.6" font-weight="700" fill="#111" stroke="#111" stroke-width="0.35" textLength="31" lengthAdjust="spacingAndGlyphs">14,29</text>
<text x="77.6" y="165.9" font-size="11.6" font-weight="700" fill="#111" stroke="#111" stroke-width="0.35" textLength="24" lengthAdjust="spacingAndGlyphs">2,29</text>
<text x="74.8" y="218.8" font-size="11.6" font-weight="700" fill="#111" stroke="#111" stroke-width="0.35" textLength="23.6" lengthAdjust="spacingAndGlyphs">3,44</text>
<text x="78" y="264.7" font-size="11.6" font-weight="700" fill="#111" stroke="#111" stroke-width="0.35" textLength="23.6" lengthAdjust="spacingAndGlyphs">3,44</text>
<text x="77.6" y="311.8" font-size="11.6" font-weight="700" fill="#111" stroke="#111" stroke-width="0.35" textLength="24" lengthAdjust="spacingAndGlyphs">2,29</text>
<text x="171.2" y="306.6" font-size="11.6" font-weight="700" fill="#111" stroke="#111" stroke-width="0.35" textLength="31.3" lengthAdjust="spacingAndGlyphs">14,29</text>
<text x="150" y="409.7" font-size="11.6" font-weight="700" fill="#111" stroke="#111" stroke-width="0.35" textLength="31.3" lengthAdjust="spacingAndGlyphs">13,84</text>
<text x="237" y="360.3" font-size="11.6" font-weight="700" fill="#111" stroke="#111" stroke-width="0.35" textLength="31.4" lengthAdjust="spacingAndGlyphs">20,06</text>
<text x="68.7" y="431.3" font-size="11.6" font-weight="700" fill="#111" stroke="#111" stroke-width="0.35" textLength="31.3" lengthAdjust="spacingAndGlyphs">18,18</text>
<text x="298.8" y="47.5" font-size="11.6" font-weight="700" fill="#111" stroke="#111" stroke-width="0.35" textLength="31.8" lengthAdjust="spacingAndGlyphs">22,00</text>
<text x="301" y="190" font-size="11.6" font-weight="700" fill="#111" stroke="#111" stroke-width="0.35" textLength="24" lengthAdjust="spacingAndGlyphs">3,70</text>
<text x="337.6" y="198" font-size="11.6" font-weight="700" fill="#111" stroke="#111" stroke-width="0.35" textLength="23.4" lengthAdjust="spacingAndGlyphs">3,96</text>
<text x="300" y="298" font-size="11.6" font-weight="700" fill="#111" stroke="#111" stroke-width="0.35" textLength="24" lengthAdjust="spacingAndGlyphs">3,70</text>
<text x="339.5" y="284" font-size="11.6" font-weight="700" fill="#111" stroke="#111" stroke-width="0.35" textLength="24" lengthAdjust="spacingAndGlyphs">3,96</text>
<text x="394.6" y="297.4" font-size="11.6" font-weight="700" fill="#111" stroke="#111" stroke-width="0.35" textLength="24.2" lengthAdjust="spacingAndGlyphs">4,14</text>
<text x="438" y="291.5" font-size="11.6" font-weight="700" fill="#111" stroke="#111" stroke-width="0.35" textLength="24.8" lengthAdjust="spacingAndGlyphs">5,74</text>
<text x="320" y="434" font-size="11.6" font-weight="700" fill="#111" stroke="#111" stroke-width="0.35" textLength="31" lengthAdjust="spacingAndGlyphs">22,00</text>
<text x="398.8" y="434" font-size="11.6" font-weight="700" fill="#111" stroke="#111" stroke-width="0.35" textLength="30.2" lengthAdjust="spacingAndGlyphs">26,51</text>
<text x="514.8" y="57" font-size="11.6" font-weight="700" fill="#111" stroke="#111" stroke-width="0.35" textLength="31.2" lengthAdjust="spacingAndGlyphs">17,86</text>
<text x="590.6" y="73" font-size="11.6" font-weight="700" fill="#111" stroke="#111" stroke-width="0.35" textLength="31.8" lengthAdjust="spacingAndGlyphs">20,06</text>
<text x="707" y="73" font-size="11.6" font-weight="700" fill="#111" stroke="#111" stroke-width="0.35" textLength="31" lengthAdjust="spacingAndGlyphs">20,06</text>
<text x="783" y="57.2" font-size="11.6" font-weight="700" fill="#111" stroke="#111" stroke-width="0.35" textLength="30.5" lengthAdjust="spacingAndGlyphs">18,18</text>
<text x="513" y="174.2" font-size="11.6" font-weight="700" fill="#111" stroke="#111" stroke-width="0.35" textLength="24" lengthAdjust="spacingAndGlyphs">3,38</text>
<text x="549" y="187" font-size="11.6" font-weight="700" fill="#111" stroke="#111" stroke-width="0.35" textLength="24.6" lengthAdjust="spacingAndGlyphs">6,46</text>
<text x="516.5" y="207.6" font-size="11.6" font-weight="700" fill="#111" stroke="#111" stroke-width="0.35" textLength="21.9" lengthAdjust="spacingAndGlyphs">1,47</text>
<text x="739.4" y="225.3" font-size="11.6" font-weight="700" fill="#111" stroke="#111" stroke-width="0.35" textLength="23.6" lengthAdjust="spacingAndGlyphs">8,17</text>
<text x="779" y="219.4" font-size="11.6" font-weight="700" fill="#111" stroke="#111" stroke-width="0.35" textLength="24" lengthAdjust="spacingAndGlyphs">3,44</text>
<text x="778.7" y="168.8" font-size="11.6" font-weight="700" fill="#111" stroke="#111" stroke-width="0.35" textLength="23.8" lengthAdjust="spacingAndGlyphs">2,29</text>
<text x="739.4" y="257.4" font-size="11.6" font-weight="700" fill="#111" stroke="#111" stroke-width="0.35" textLength="23.6" lengthAdjust="spacingAndGlyphs">8,17</text>
<text x="779.4" y="265" font-size="11.6" font-weight="700" fill="#111" stroke="#111" stroke-width="0.35" textLength="24" lengthAdjust="spacingAndGlyphs">3,44</text>
<text x="780" y="315" font-size="11.6" font-weight="700" fill="#111" stroke="#111" stroke-width="0.35" textLength="24" lengthAdjust="spacingAndGlyphs">2,29</text>
<text x="517" y="270.3" font-size="11.6" font-weight="700" fill="#111" stroke="#111" stroke-width="0.35" textLength="23" lengthAdjust="spacingAndGlyphs">1,47</text>
<text x="513.5" y="306.8" font-size="11.6" font-weight="700" fill="#111" stroke="#111" stroke-width="0.35" textLength="24.3" lengthAdjust="spacingAndGlyphs">3,38</text>
<text x="555.4" y="291.5" font-size="11.6" font-weight="700" fill="#111" stroke="#111" stroke-width="0.35" textLength="24" lengthAdjust="spacingAndGlyphs">6,46</text>
<text x="507.6" y="437.6" font-size="11.6" font-weight="700" fill="#111" stroke="#111" stroke-width="0.35" textLength="31.1" lengthAdjust="spacingAndGlyphs">17,86</text>
<text x="598.8" y="412.2" font-size="11.6" font-weight="700" fill="#111" stroke="#111" stroke-width="0.35" textLength="31.2" lengthAdjust="spacingAndGlyphs">20,06</text>
<text x="672.2" y="412.2" font-size="11.6" font-weight="700" fill="#111" stroke="#111" stroke-width="0.35" textLength="31.3" lengthAdjust="spacingAndGlyphs">20,06</text>
<text x="753" y="437.6" font-size="11.6" font-weight="700" fill="#111" stroke="#111" stroke-width="0.35" textLength="31" lengthAdjust="spacingAndGlyphs">18,18</text>
<text x="20.4" y="100.4" font-size="9.7" fill="#2a2a2a" textLength="17.4" lengthAdjust="spacingAndGlyphs">3,66</text>
<path d="M16.8 102.4H40" stroke="#111" stroke-width="1.25"/>
<text x="20.4" y="112" font-size="9.7" fill="#2a2a2a" textLength="17.4" lengthAdjust="spacingAndGlyphs">1,10</text>
<text x="20.7" y="357.2" font-size="9.7" fill="#2a2a2a" textLength="16.9" lengthAdjust="spacingAndGlyphs">3,66</text>
<path d="M17 359.4H40" stroke="#111" stroke-width="1.25"/>
<text x="20.7" y="369" font-size="9.7" fill="#2a2a2a" textLength="16.9" lengthAdjust="spacingAndGlyphs">1,10</text>
<text x="237.8" y="32" font-size="9.7" fill="#2a2a2a" textLength="19.2" lengthAdjust="spacingAndGlyphs">6,75</text>
<path d="M234.3 33.8H258" stroke="#111" stroke-width="1.25"/>
<text x="237.8" y="43.5" font-size="9.7" fill="#2a2a2a" textLength="19.2" lengthAdjust="spacingAndGlyphs">3,38</text>
<text x="249.5" y="436.5" font-size="9.7" fill="#2a2a2a" textLength="18.9" lengthAdjust="spacingAndGlyphs">6,75</text>
<path d="M246 438.8H269.4" stroke="#111" stroke-width="1.25"/>
<text x="249.5" y="448" font-size="9.7" fill="#2a2a2a" textLength="18.9" lengthAdjust="spacingAndGlyphs">3,38</text>
<text x="398" y="463.3" font-size="9.7" fill="#2a2a2a" textLength="18.3" lengthAdjust="spacingAndGlyphs">5,39</text>
<path d="M394.6 465.5H417.8" stroke="#111" stroke-width="1.25"/>
<text x="398" y="475.4" font-size="9.7" fill="#2a2a2a" textLength="18.3" lengthAdjust="spacingAndGlyphs">1,62</text>
<text x="604.7" y="32.5" font-size="9.7" fill="#2a2a2a" textLength="18.8" lengthAdjust="spacingAndGlyphs">3,32</text>
<path d="M601.2 34.6H624.5" stroke="#111" stroke-width="1.25"/>
<text x="604.7" y="44.2" font-size="9.7" fill="#2a2a2a" textLength="18.8" lengthAdjust="spacingAndGlyphs">1,66</text>
<text x="690" y="32.5" font-size="9.7" fill="#2a2a2a" textLength="19" lengthAdjust="spacingAndGlyphs">3,32</text>
<path d="M686.5 34.6H710" stroke="#111" stroke-width="1.25"/>
<text x="690" y="44.2" font-size="9.7" fill="#2a2a2a" textLength="19" lengthAdjust="spacingAndGlyphs">1,66</text>
<text x="637" y="436.5" font-size="9.7" fill="#2a2a2a" textLength="18.8" lengthAdjust="spacingAndGlyphs">3,32</text>
<path d="M633.5 438.6H656.8" stroke="#111" stroke-width="1.25"/>
<text x="637" y="448" font-size="9.7" fill="#2a2a2a" textLength="18.8" lengthAdjust="spacingAndGlyphs">1,66</text>
<text x="670" y="436.5" font-size="9.7" fill="#2a2a2a" textLength="18.7" lengthAdjust="spacingAndGlyphs">3,32</text>
<path d="M666.5 438.6H689.7" stroke="#111" stroke-width="1.25"/>
<text x="670" y="448" font-size="9.7" fill="#2a2a2a" textLength="18.7" lengthAdjust="spacingAndGlyphs">1,66</text>
<rect x="139.4" y="78" width="71.6" height="53" fill="#fff" stroke="#2a2a2a" stroke-width="0.7"/>
<path d="M163.6 78V131 M163.6 95.8H211 M163.6 114H211 " stroke="#2a2a2a" stroke-width="0.9" fill="none"/>
<text x="151.5" y="93.2" font-size="16.8" font-weight="700" fill="#111" stroke="#111" stroke-width="0.3" text-anchor="middle">3</text>
<text x="151.5" y="108.5" font-size="16.8" font-weight="700" fill="#111" stroke="#111" stroke-width="0.3" text-anchor="middle">С</text>
<text x="166.2" y="93.4" font-size="17.4" fill="#1a1a1a" stroke="#1a1a1a" stroke-width="0.15" textLength="43.2" lengthAdjust="spacingAndGlyphs">46,08</text>
<text x="166.2" y="111.6" font-size="17.4" fill="#1a1a1a" stroke="#1a1a1a" stroke-width="0.15" textLength="43.2" lengthAdjust="spacingAndGlyphs">72,10</text>
<text x="166.2" y="128.6" font-size="17.4" fill="#1a1a1a" stroke="#1a1a1a" stroke-width="0.15" textLength="43.2" lengthAdjust="spacingAndGlyphs">76,58</text>
<rect x="135.9" y="341.5" width="71.7" height="53.4" fill="#fff" stroke="#2a2a2a" stroke-width="0.7"/>
<path d="M159.4 341.5V394.9 M159.4 359.8H207.6 M159.4 378H207.6 " stroke="#2a2a2a" stroke-width="0.9" fill="none"/>
<text x="147.65" y="356.7" font-size="16.8" font-weight="700" fill="#111" stroke="#111" stroke-width="0.3" text-anchor="middle">3</text>
<text x="147.65" y="372" font-size="16.8" font-weight="700" fill="#111" stroke="#111" stroke-width="0.3" text-anchor="middle">С</text>
<text x="162" y="357.4" font-size="17.4" fill="#1a1a1a" stroke="#1a1a1a" stroke-width="0.15" textLength="44" lengthAdjust="spacingAndGlyphs">46,08</text>
<text x="162" y="375.6" font-size="17.4" fill="#1a1a1a" stroke="#1a1a1a" stroke-width="0.15" textLength="44" lengthAdjust="spacingAndGlyphs">72,10</text>
<text x="162" y="392.5" font-size="17.4" fill="#1a1a1a" stroke="#1a1a1a" stroke-width="0.15" textLength="44" lengthAdjust="spacingAndGlyphs">76,58</text>
<rect x="306.4" y="61.6" width="72" height="36.4" fill="#fff" stroke="#2a2a2a" stroke-width="0.7"/>
<path d="M330.6 61.6V98 M330.6 80H378.4 " stroke="#2a2a2a" stroke-width="0.9" fill="none"/>
<text x="318.5" y="76.8" font-size="16.8" font-weight="700" fill="#111" stroke="#111" stroke-width="0.3" text-anchor="middle">1</text>
<text x="318.5" y="92.1" font-size="16.8" font-weight="700" fill="#111" stroke="#111" stroke-width="0.3" text-anchor="middle">С</text>
<rect x="313.7" y="75.4" width="9.6" height="1.5" fill="#111"/>
<text x="333.2" y="77.6" font-size="17.4" fill="#1a1a1a" stroke="#1a1a1a" stroke-width="0.15" textLength="43.6" lengthAdjust="spacingAndGlyphs">17,00</text>
<text x="333.2" y="95.6" font-size="17.4" fill="#1a1a1a" stroke="#1a1a1a" stroke-width="0.15" textLength="43.6" lengthAdjust="spacingAndGlyphs">29,66</text>
<rect x="300.5" y="384.2" width="72.5" height="37" fill="#fff" stroke="#2a2a2a" stroke-width="0.7"/>
<path d="M324.7 384.2V421.2 M324.7 403H373 " stroke="#2a2a2a" stroke-width="0.9" fill="none"/>
<text x="312.6" y="399.4" font-size="16.8" font-weight="700" fill="#111" stroke="#111" stroke-width="0.3" text-anchor="middle">1</text>
<text x="312.6" y="414.7" font-size="16.8" font-weight="700" fill="#111" stroke="#111" stroke-width="0.3" text-anchor="middle">С</text>
<rect x="307.8" y="398" width="9.6" height="1.5" fill="#111"/>
<text x="327.3" y="400.6" font-size="17.4" fill="#1a1a1a" stroke="#1a1a1a" stroke-width="0.15" textLength="44.1" lengthAdjust="spacingAndGlyphs">17,00</text>
<text x="327.3" y="418.8" font-size="17.4" fill="#1a1a1a" stroke="#1a1a1a" stroke-width="0.15" textLength="44.1" lengthAdjust="spacingAndGlyphs">29,66</text>
<rect x="388.7" y="366" width="72" height="53.5" fill="#fff" stroke="#2a2a2a" stroke-width="0.7"/>
<path d="M412.5 366V419.5 M412.5 383.5H460.7 M412.5 402H460.7 " stroke="#2a2a2a" stroke-width="0.9" fill="none"/>
<text x="400.6" y="381.2" font-size="16.8" font-weight="700" fill="#111" stroke="#111" stroke-width="0.3" text-anchor="middle">1</text>
<text x="400.6" y="396.5" font-size="16.8" font-weight="700" fill="#111" stroke="#111" stroke-width="0.3" text-anchor="middle">С</text>
<rect x="395.8" y="379.8" width="9.6" height="1.5" fill="#111"/>
<text x="415.1" y="381.1" font-size="17.4" fill="#1a1a1a" stroke="#1a1a1a" stroke-width="0.15" textLength="44" lengthAdjust="spacingAndGlyphs">21,51</text>
<text x="415.1" y="399.6" font-size="17.4" fill="#1a1a1a" stroke="#1a1a1a" stroke-width="0.15" textLength="44" lengthAdjust="spacingAndGlyphs">36,39</text>
<text x="415.1" y="417.1" font-size="17.4" fill="#1a1a1a" stroke="#1a1a1a" stroke-width="0.15" textLength="44" lengthAdjust="spacingAndGlyphs">38,01</text>
<rect x="588.2" y="101.6" width="71.8" height="54.4" fill="#fff" stroke="#2a2a2a" stroke-width="0.7"/>
<path d="M612.5 101.6V156 M612.5 120H660 M612.5 138.4H660 " stroke="#2a2a2a" stroke-width="0.9" fill="none"/>
<text x="600.35" y="116.8" font-size="16.8" font-weight="700" fill="#111" stroke="#111" stroke-width="0.3" text-anchor="middle">2</text>
<text x="600.35" y="132.1" font-size="16.8" font-weight="700" fill="#111" stroke="#111" stroke-width="0.3" text-anchor="middle">С</text>
<text x="615.1" y="117.6" font-size="17.4" fill="#1a1a1a" stroke="#1a1a1a" stroke-width="0.15" textLength="43.3" lengthAdjust="spacingAndGlyphs">32,92</text>
<text x="615.1" y="136" font-size="17.4" fill="#1a1a1a" stroke="#1a1a1a" stroke-width="0.15" textLength="43.3" lengthAdjust="spacingAndGlyphs">49,23</text>
<text x="615.1" y="153.6" font-size="17.4" fill="#1a1a1a" stroke="#1a1a1a" stroke-width="0.15" textLength="43.3" lengthAdjust="spacingAndGlyphs">50,89</text>
<rect x="667.5" y="101.6" width="72.5" height="54.4" fill="#fff" stroke="#2a2a2a" stroke-width="0.7"/>
<path d="M692.2 101.6V156 M692.2 120H740 M692.2 138.4H740 " stroke="#2a2a2a" stroke-width="0.9" fill="none"/>
<text x="679.85" y="116.8" font-size="16.8" font-weight="700" fill="#111" stroke="#111" stroke-width="0.3" text-anchor="middle">2</text>
<text x="679.85" y="132.1" font-size="16.8" font-weight="700" fill="#111" stroke="#111" stroke-width="0.3" text-anchor="middle">С</text>
<text x="694.8" y="117.6" font-size="17.4" fill="#1a1a1a" stroke="#1a1a1a" stroke-width="0.15" textLength="43.6" lengthAdjust="spacingAndGlyphs">32,24</text>
<text x="694.8" y="136" font-size="17.4" fill="#1a1a1a" stroke="#1a1a1a" stroke-width="0.15" textLength="43.6" lengthAdjust="spacingAndGlyphs">52,14</text>
<text x="694.8" y="153.6" font-size="17.4" fill="#1a1a1a" stroke="#1a1a1a" stroke-width="0.15" textLength="43.6" lengthAdjust="spacingAndGlyphs">53,80</text>
<rect x="587" y="339.7" width="73" height="53.7" fill="#fff" stroke="#2a2a2a" stroke-width="0.7"/>
<path d="M610.7 339.7V393.4 M610.7 357.5H660 M610.7 375.8H660 " stroke="#2a2a2a" stroke-width="0.9" fill="none"/>
<text x="598.85" y="354.9" font-size="16.8" font-weight="700" fill="#111" stroke="#111" stroke-width="0.3" text-anchor="middle">2</text>
<text x="598.85" y="370.2" font-size="16.8" font-weight="700" fill="#111" stroke="#111" stroke-width="0.3" text-anchor="middle">С</text>
<text x="613.3" y="355.1" font-size="17.4" fill="#1a1a1a" stroke="#1a1a1a" stroke-width="0.15" textLength="45.1" lengthAdjust="spacingAndGlyphs">32,92</text>
<text x="613.3" y="373.4" font-size="17.4" fill="#1a1a1a" stroke="#1a1a1a" stroke-width="0.15" textLength="45.1" lengthAdjust="spacingAndGlyphs">49,23</text>
<text x="613.3" y="391" font-size="17.4" fill="#1a1a1a" stroke="#1a1a1a" stroke-width="0.15" textLength="45.1" lengthAdjust="spacingAndGlyphs">50,89</text>
<rect x="666.6" y="339.7" width="73.4" height="53.7" fill="#fff" stroke="#2a2a2a" stroke-width="0.7"/>
<path d="M691.2 339.7V393.4 M691.2 357.5H740 M691.2 375.8H740 " stroke="#2a2a2a" stroke-width="0.9" fill="none"/>
<text x="678.9" y="354.9" font-size="16.8" font-weight="700" fill="#111" stroke="#111" stroke-width="0.3" text-anchor="middle">2</text>
<text x="678.9" y="370.2" font-size="16.8" font-weight="700" fill="#111" stroke="#111" stroke-width="0.3" text-anchor="middle">С</text>
<text x="693.8" y="355.1" font-size="17.4" fill="#1a1a1a" stroke="#1a1a1a" stroke-width="0.15" textLength="44.6" lengthAdjust="spacingAndGlyphs">32,24</text>
<text x="693.8" y="373.4" font-size="17.4" fill="#1a1a1a" stroke="#1a1a1a" stroke-width="0.15" textLength="44.6" lengthAdjust="spacingAndGlyphs">52,14</text>
<text x="693.8" y="391" font-size="17.4" fill="#1a1a1a" stroke="#1a1a1a" stroke-width="0.15" textLength="44.6" lengthAdjust="spacingAndGlyphs">53,80</text>
<rect x="176" y="63" width="35" height="12.8" fill="#1d1a1b"/>
<text x="193.5" y="73.4" font-size="11.4" font-weight="700" fill="#fff" text-anchor="middle" textLength="20.5" lengthAdjust="spacingAndGlyphs">№8</text>
<rect x="172.4" y="326.2" width="35.2" height="12.4" fill="#1d1a1b"/>
<text x="190" y="336.2" font-size="11.4" font-weight="700" fill="#fff" text-anchor="middle" textLength="20.5" lengthAdjust="spacingAndGlyphs">№7</text>
<rect x="341.9" y="47" width="35.3" height="12.5" fill="#1d1a1b"/>
<text x="359.55" y="57.1" font-size="11.4" font-weight="700" fill="#fff" text-anchor="middle" textLength="20.5" lengthAdjust="spacingAndGlyphs">№9</text>
<rect x="302.4" y="370.3" width="35.2" height="12.5" fill="#1d1a1b"/>
<text x="320" y="380.4" font-size="11.4" font-weight="700" fill="#fff" text-anchor="middle" textLength="20.5" lengthAdjust="spacingAndGlyphs">№6</text>
<rect x="422.4" y="349" width="35.2" height="13" fill="#1d1a1b"/>
<text x="440" y="359.6" font-size="11.4" font-weight="700" fill="#fff" text-anchor="middle" textLength="20.5" lengthAdjust="spacingAndGlyphs">№5</text>
<rect x="622.4" y="85.2" width="34.8" height="12" fill="#1d1a1b"/>
<text x="639.8" y="94.8" font-size="11.4" font-weight="700" fill="#fff" text-anchor="middle" textLength="20.5" lengthAdjust="spacingAndGlyphs">№1</text>
<rect x="702.4" y="85.2" width="35.2" height="12" fill="#1d1a1b"/>
<text x="720" y="94.8" font-size="11.4" font-weight="700" fill="#fff" text-anchor="middle" textLength="20.5" lengthAdjust="spacingAndGlyphs">№2</text>
<rect x="624.4" y="325.4" width="35.2" height="12.6" fill="#1d1a1b"/>
<text x="642" y="335.6" font-size="11.4" font-weight="700" fill="#fff" text-anchor="middle" textLength="20.5" lengthAdjust="spacingAndGlyphs">№4</text>
<rect x="703.6" y="325" width="35.4" height="13" fill="#1d1a1b"/>
<text x="721.3" y="335.6" font-size="11.4" font-weight="700" fill="#fff" text-anchor="middle" textLength="20.5" lengthAdjust="spacingAndGlyphs">№3</text>
</g>
<defs><linearGradient id="cg1" x1="0" y1="0" x2="1" y2="1"><stop offset="0" stop-color="#fdfdfd"/><stop offset="0.5" stop-color="#d9d9d9"/><stop offset="1" stop-color="#8f8f8f"/></linearGradient><linearGradient id="cg2" x1="0" y1="0.5" x2="1" y2="0.5"><stop offset="0" stop-color="#ffffff"/><stop offset="0.45" stop-color="#f4f4f4"/><stop offset="1" stop-color="#c9c9c9"/></linearGradient><linearGradient id="cg3" x1="1" y1="0" x2="0" y2="1"><stop offset="0" stop-color="#e8e8e8"/><stop offset="1" stop-color="#a8a8a8"/></linearGradient></defs>
<circle cx="620" cy="545" r="29.6" fill="#f3f3f3" stroke="#e2e2e2" stroke-width="0.6"/>
<path d="M606 519.5A29 29 0 0 1 648.6 551" fill="none" stroke="#5a5a5a" stroke-width="1.3" stroke-linecap="round" opacity="0.8"/>
<circle cx="620.3" cy="545.5" r="25.6" fill="url(#cg3)"/>
<circle cx="620" cy="545" r="25" fill="none" stroke="#bcbcbc" stroke-width="0.5"/>
<circle cx="623.2" cy="544.5" r="20.6" fill="url(#cg2)"/>
<path d="M613.8 526L624.9 543.9L619.8 545L615.4 546.5Z" fill="#7c83c4"/>
<path d="M613.8 526L624.9 543.9L626.8 564.3L625.2 544.5Z" fill="#222"/>
<path d="M615.4 546.5L619.8 545L624.9 543.9L626.8 564.3Z" fill="#e5087f"/>
<path d="M624.9 543.9L626.8 564.3" stroke="#222" stroke-width="0.8"/>
<path d="M613.8 526L624.9 543.9" stroke="#222" stroke-width="0.9"/>
<circle cx="619.8" cy="545.2" r="1.9" fill="#fff"/>
<g font-family="Liberation Sans, sans-serif" font-weight="700" font-size="12.6" text-anchor="middle" stroke-width="0.35"><text transform="translate(608.2 512) rotate(-14)" fill="#1765ab" stroke="#1765ab">С</text><text transform="translate(658.2 538.3) rotate(-14)" fill="#3d3d3d" stroke="#3d3d3d">В</text><text transform="translate(584 563.4) rotate(-14)" fill="#3d3d3d" stroke="#3d3d3d">З</text><text transform="translate(634.6 586.6) rotate(-14)" fill="#e5087f" stroke="#e5087f">Ю</text></g>
<defs><clipPath id="mc"><circle cx="751.6" cy="580.4" r="71.4"/></clipPath><radialGradient id="mrad" cx="0.5" cy="0.5" r="0.5"><stop offset="0" stop-color="#fff"/><stop offset="0.968" stop-color="#fff"/><stop offset="1" stop-color="#000"/></radialGradient><mask id="mm" maskUnits="userSpaceOnUse" x="670" y="500" width="180" height="159"><circle cx="751.6" cy="580.4" r="71.4" fill="url(#mrad)"/></mask><linearGradient id="mfade" x1="0" y1="0" x2="1" y2="0"><stop offset="0" stop-color="#fff" stop-opacity="0"/><stop offset="1" stop-color="#fff" stop-opacity="1"/></linearGradient><linearGradient id="dg" x1="0" y1="0" x2="0" y2="1"><stop offset="0" stop-color="#5aa56a"/><stop offset="1" stop-color="#2f8048"/></linearGradient></defs>
<g clip-path="url(#mc)" mask="url(#mm)">
<rect x="678" y="506" width="148" height="148" fill="#b7dbab"/>
<rect x="678" y="506" width="7" height="148" fill="#e4e4e4"/>
<rect x="685" y="506" width="5.6" height="148" fill="#8dba82"/>
<rect x="690.6" y="506" width="1.8" height="148" fill="#ffffff"/>
<rect x="692.4" y="506" width="4.9" height="148" fill="#d0d0d0"/>
<rect x="697.3" y="506" width="1.8" height="148" fill="#ffffff"/>
<rect x="699.1" y="506" width="1.2" height="148" fill="#8e8e8e"/>
<rect x="700.3" y="506" width="4.2" height="148" fill="#d9d9d9"/>
<rect x="704.5" y="506" width="1.7" height="148" fill="#ffffff"/>
<rect x="706.2" y="506" width="1.8" height="148" fill="#86bd7f"/>
<rect x="678" y="638.8" width="148" height="15.2" fill="#e6e6e6"/>
<rect x="700" y="639" width="126" height="1.1" fill="#6f6f6f"/>
<rect x="700" y="640.1" width="126" height="2.9" fill="#f7f7f7"/>
<rect x="700" y="643" width="126" height="1.8" fill="#b9b9b9"/>
<rect x="700" y="644.8" width="126" height="3.2" fill="#fafafa"/>
<rect x="700" y="648" width="126" height="2" fill="#a9a9a9"/>
<rect x="700" y="650" width="126" height="4" fill="#e0e0e0"/>
<rect x="711.5" y="512" width="41.3" height="123" fill="#8ec688"/>
<rect x="760.8" y="512" width="65.2" height="10" fill="#8ec688"/>
<rect x="764.5" y="544" width="61.5" height="10" fill="#8ec688"/>
<rect x="764.2" y="561" width="61.8" height="28" fill="#8ec688"/>
<rect x="764.2" y="595.8" width="61.8" height="12.2" fill="#8ec688"/>
<rect x="764.2" y="629" width="61.8" height="6" fill="#8ec688"/>
<rect x="753.8" y="561" width="3.2" height="74" fill="#8ec688"/>
<rect x="744" y="523" width="9" height="45" fill="#8ec688"/>
<rect x="753.6" y="508" width="6.2" height="44" fill="#f0e2bd"/>
<rect x="757.6" y="548" width="6" height="91" fill="#f0e2bd"/>
<rect x="708" y="548" width="2.8" height="90" fill="#f0e2bd"/>
<rect x="708" y="635.8" width="118" height="3.1" fill="#f0e2bd"/>
<rect x="743" y="532.3" width="11" height="5.9" fill="#f0e2bd"/>
<rect x="743" y="554.8" width="83" height="5.2" fill="#f0e2bd"/>
<rect x="750" y="589.8" width="76" height="5.6" fill="#f0e2bd"/>
<rect x="751" y="595.6" width="7" height="5.4" fill="#f0e2bd"/>
<rect x="708" y="596.3" width="10.2" height="2.4" fill="#f0e2bd"/>
<rect x="708" y="570" width="11.5" height="2.4" fill="#f0e2bd"/>
<rect x="724.5" y="508" width="2.5" height="13" fill="#f0e2bd"/>
<rect x="774.5" y="595.4" width="3.3" height="13" fill="#f0e2bd"/>
<rect x="791" y="595.4" width="2.2" height="13" fill="#f0e2bd"/>
<rect x="803.6" y="595.4" width="3.4" height="13" fill="#f0e2bd"/>
<rect x="806" y="548" width="3.6" height="7" fill="#f0e2bd"/>
<rect x="744.8" y="524.6" width="8.2" height="6" fill="url(#dg)"/>
<rect x="744.8" y="539.2" width="8.2" height="13.8" fill="url(#dg)"/>
<rect x="744.8" y="562" width="8.2" height="5.4" fill="url(#dg)"/>
<rect x="768.2" y="596.4" width="5.6" height="10.8" fill="url(#dg)"/>
<rect x="779.6" y="596.4" width="10.8" height="10.8" fill="url(#dg)"/>
<rect x="793.8" y="596.4" width="9.2" height="10.8" fill="url(#dg)"/>
<rect x="779.8" y="545.5" width="25.8" height="9.1" fill="url(#dg)"/>
<rect x="810" y="547.5" width="8" height="7.1" fill="url(#dg)"/>
<rect x="712" y="512" width="40" height="8" fill="url(#dg)"/>
<rect x="712" y="512" width="40" height="8" fill="#8ec688"/>
<rect x="768.2" y="565.1" width="62" height="19.6" rx="3.4" fill="#fdfaa4"/>
<path d="M794 560.5l1.6 3.8 M813 560.5l1.6 3.8 M764.6 574.5h3.4 M805 585l1.6 3.4" stroke="#fff" stroke-width="1.2"/>
<rect x="720.7" y="520" width="22.9" height="49.6" fill="#ffffff"/>
<rect x="721.6" y="520.9" width="21.1" height="47.9" fill="#fcb813"/>
<rect x="721.6" y="520.9" width="21.1" height="3.5" fill="#fdc746" stroke="#5a50c8" stroke-width="0.4"/>
<path d="M721.6 535.4H742.7 M721.6 546.3H742.7 M721.6 557.2H742.7" stroke="#5a50c8" stroke-width="0.5" fill="none"/>
<rect x="741.8" y="532.3" width="3.8" height="6.1" fill="#f8b877" stroke="#5a50c8" stroke-width="0.4"/>
<rect x="741.8" y="554.6" width="3.8" height="5.7" fill="#f8b877" stroke="#5a50c8" stroke-width="0.4"/>
<path d="M719.1 568.8H750.1V582.3H751.9V589.6H750.1V594.5H751.9V612H750.1V628.4H720.9V608H719.1Z" fill="#ec7446" stroke="#ffffff" stroke-width="1.1"/>
<rect x="717.3" y="569.6" width="2.5" height="9.8" fill="#fcb813" stroke="#e98b2a" stroke-width="0.3"/>
<rect x="718.2" y="577.5" width="3" height="3.9" fill="#fcb813" stroke="#7a5cc0" stroke-width="0.3"/>
<rect x="718.2" y="595.2" width="3" height="5.6" fill="#fcb813" stroke="#7a5cc0" stroke-width="0.3"/>
<rect x="721.9" y="594.4" width="11.2" height="8.6" fill="#ef7b33" stroke="#f7a945" stroke-width="0.5"/>
<rect x="749.2" y="595" width="2.8" height="8" fill="#f6a55a" stroke="#7a5cc0" stroke-width="0.4"/>
<rect x="787.7" y="523.2" width="42.3" height="22" fill="#fdd57e" stroke="#8a5cb0" stroke-width="0.4"/>
<rect x="797" y="545" width="33" height="3" fill="#fdd57e"/>
<rect x="806" y="546.2" width="3" height="2.8" fill="#fcb813"/>
<path d="M799.5 529l3.5 0.5l-1 3z" fill="#fcb813"/>
<path d="M759.7 523.2H787V543.3H764.6V533.5H759.7Z" fill="#fcb813" stroke="#8a5cb0" stroke-width="0.4"/>
<path d="M775.5 523.2V543.3 M764.6 523.2V533.5" stroke="#c8901a" stroke-width="0.5"/>
<path d="M769.2 521V524.4 M773.8 521V524.4 M779.2 521V524.4 M782 521V524.4" stroke="#4c50d8" stroke-width="0.6"/>
<path d="M763.4 608.4H830V628.4H768.2V619.3H763.4Z" fill="#fcb813" stroke="#ffffff" stroke-width="0.8"/>
<path d="M779.8 608.4V628.4 M790.7 608.4V628.4 M801.6 608.4V628.4 M810.1 608.4V628.4 M768.2 608.4V619.3" stroke="#c8901a" stroke-width="0.5"/>
<path d="M778.6 608.4V613 M780.8 608.4V613 M801 608.4V613 M803 608.4V613" stroke="#b58a3a" stroke-width="0.4"/>
<path d="M772.5 604.5V609 M786.5 604.5V609 M794 604.5V609 M806.5 604.5V609" stroke="#f4f4f4" stroke-width="1.3"/>
<g font-family="Liberation Sans, sans-serif" font-size="13.4" fill="#111" text-anchor="middle"><circle cx="710.8" cy="535.2" r="10.9" fill="#fff" stroke="#111" stroke-width="0.9"/><text x="711" y="540" textLength="17.4" lengthAdjust="spacingAndGlyphs">2.2</text><circle cx="768.8" cy="553.6" r="10.9" fill="#fff" stroke="#111" stroke-width="0.9"/><text x="769" y="558.4" textLength="17.4" lengthAdjust="spacingAndGlyphs">2.3</text><circle cx="710.6" cy="618.5" r="10.9" fill="#fff" stroke="#111" stroke-width="0.9"/><text x="710.8" y="623.3" textLength="17.4" lengthAdjust="spacingAndGlyphs">2.1</text><circle cx="818.2" cy="598.7" r="10.9" fill="#fff" stroke="#111" stroke-width="0.9"/><text x="818.4" y="603.5" textLength="17.4" lengthAdjust="spacingAndGlyphs">2.3</text><circle cx="672.6" cy="576" r="10.9" fill="#fff" stroke="#111" stroke-width="0.9"/><text x="672.8" y="580.8" textLength="17.4" lengthAdjust="spacingAndGlyphs">2.3</text></g>
<g font-family="Liberation Sans, sans-serif" font-size="8.7" fill="#111" stroke="#111" stroke-width="0.25" text-anchor="middle"><text x="713.5" y="560" textLength="11.2" lengthAdjust="spacingAndGlyphs">Б1</text><text x="714.2" y="587.2" textLength="5.4" lengthAdjust="spacingAndGlyphs">В</text><text x="775.6" y="520.6" textLength="12" lengthAdjust="spacingAndGlyphs">Б2</text><text x="786.2" y="603.4" textLength="12" lengthAdjust="spacingAndGlyphs">Б2</text></g>
<text x="787.7" y="575.2" font-family="Liberation Sans, sans-serif" font-size="9" font-weight="700" fill="#6a3d9a" textLength="32.1" lengthAdjust="spacingAndGlyphs">Двор 2</text>
<path d="M787.7 576.6H819.8" stroke="#6a3d9a" stroke-width="0.8"/>
</g>
<path d="M741.8 510.9A70.2 70.2 0 0 1 772.1 513.3" fill="none" stroke="#333" stroke-width="0.9" opacity="0.7"/>
</svg>
</body>
</html>
